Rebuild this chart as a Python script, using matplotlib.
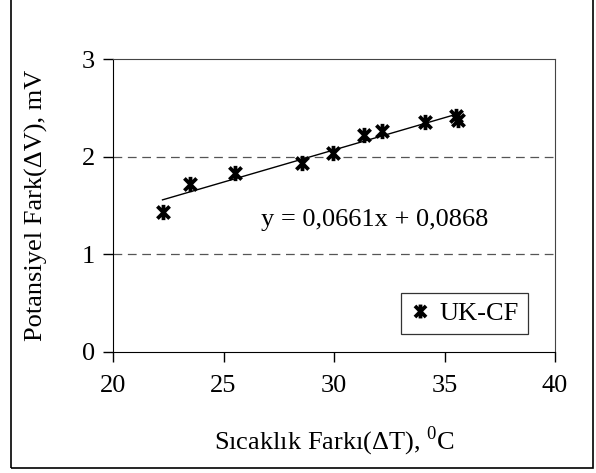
import matplotlib
matplotlib.use("Agg")
import matplotlib.pyplot as plt
from matplotlib.path import Path
from matplotlib.patches import Rectangle

# data
delta_t = [22.24, 23.5, 25.5, 28.55, 29.95, 31.35, 32.15, 34.1, 35.5, 35.6]
delta_v = [1.435, 1.72, 1.83, 1.935, 2.04, 2.22, 2.26, 2.36, 2.42, 2.38]
slope, intercept = 0.0661, 0.0868
series_name = "UK-CF"
x_ticks = [20, 25, 30, 35, 40]
y_ticks = [0, 1, 2, 3]

plt.rcParams["font.family"] = ["Liberation Serif", "DejaVu Serif"]
plt.rcParams["mathtext.fontset"] = "custom"
plt.rcParams["mathtext.rm"] = "Liberation Serif"
fs = 19

# excel-like star: X plus vertical bar
star = Path([(-1, -1), (1, 1), (-1, 1), (1, -1), (0, -1.25), (0, 1.25)],
            [Path.MOVETO, Path.LINETO, Path.MOVETO, Path.LINETO, Path.MOVETO, Path.LINETO])

W, H = 596, 473
fig = plt.figure(figsize=(W / 100, H / 100), dpi=100)
ax = fig.add_axes([113 / W, 1 - 351.5 / H, (555 - 113) / W, (351.5 - 59.3) / H])

ax.set_xlim(20, 40)
ax.set_ylim(0, 3)
ax.set_xticks(x_ticks)
ax.set_yticks(y_ticks)
ax.tick_params(direction="out", length=7, width=1, labelsize=fs, pad=6)
ax.tick_params(axis="x", pad=10)

for y in y_ticks[1:-1]:
    ax.axhline(y, color="#555555", lw=0.9, ls=(0, (7, 4.5)), zorder=1)
for s in ("top", "right"):
    ax.spines[s].set_color("#444444")
for s in ("left", "bottom"):
    ax.spines[s].set_color("black")

xs = [min(delta_t), max(delta_t)]
ax.plot(xs, [slope * x + intercept for x in xs], color="black", lw=1, zorder=2)
ax.plot(delta_t, delta_v, ls="none", marker=star, ms=11, mfc="none",
        mec="black", mew=2.7, color="black", label=series_name, zorder=3)

ax.text(26.7, 1.35, "y = 0,0661x + 0,0868", fontsize=fs, va="center", ha="left")

leg = ax.legend(loc="center", bbox_to_anchor=(0.796, 0.13), fontsize=fs, frameon=True,
                fancybox=False, edgecolor="black", handlelength=0.7, handletextpad=0.4,
                borderpad=0.35, borderaxespad=0)
leg.get_frame().set_linewidth(0.9)
for h in leg.legend_handles:
    h.set_markersize(10)

ax.set_ylabel("Potansiyel Fark(\u0394V), mV", fontsize=fs, labelpad=24)
ax.set_xlabel("S\u0131cakl\u0131k Fark\u0131(\u0394T), $^{\\mathrm{0}}$C", fontsize=fs, labelpad=20)

fig.add_artist(Rectangle((11 / W, 1 - 468 / H), (593 - 11) / W, 480 / H,
                         transform=fig.transFigure, fill=False, lw=1.2, color="black"))

fig.savefig("out.png", dpi=100)
